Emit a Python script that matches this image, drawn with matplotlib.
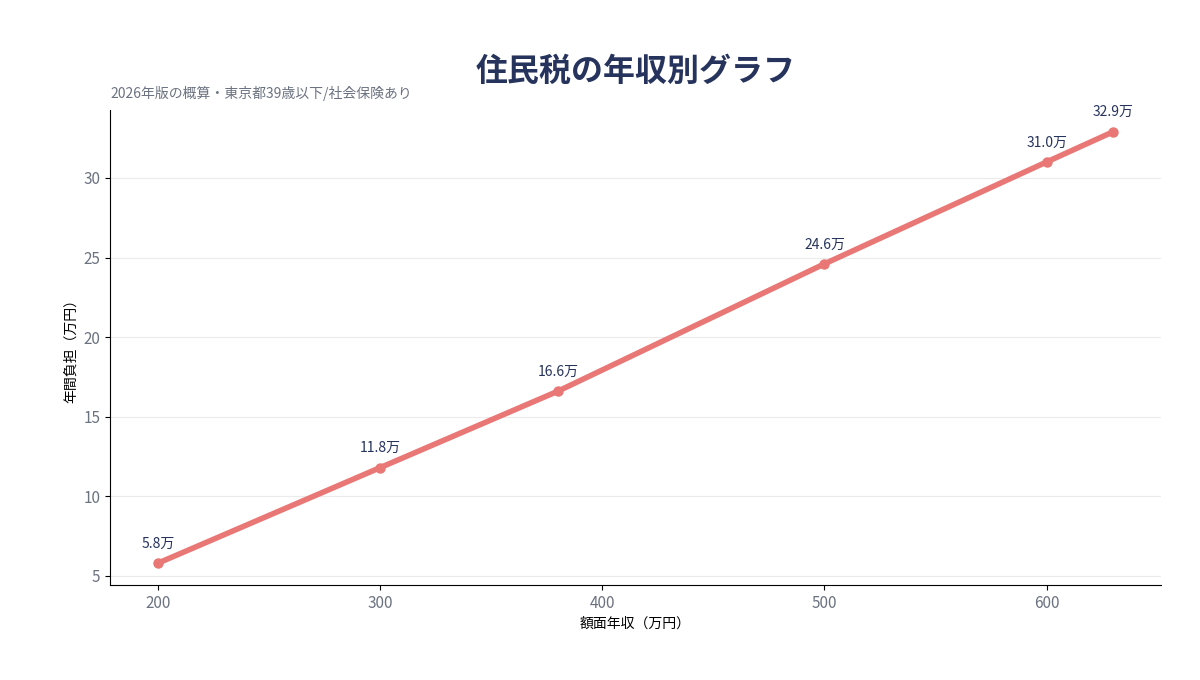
import matplotlib
matplotlib.use("Agg")
import matplotlib.pyplot as plt

plt.rcParams["font.family"] = ["Noto Sans CJK JP", "DejaVu Sans"]

# データ
incomes = [200, 300, 380, 500, 600, 630]        # 額面年収（万円）
taxes = [5.8, 11.8, 16.6, 24.6, 31.0, 32.9]     # 年間負担（万円）

LINE_COLOR = "#E87775"
NAVY = "#26335C"
GRAY = "#6B7280"

fig, ax = plt.subplots(figsize=(12, 6.8), dpi=100, facecolor="white")
fig.subplots_adjust(left=0.0917, right=0.9675, top=0.838, bottom=0.14)

ax.plot(incomes, taxes, color=LINE_COLOR, linewidth=4, marker="o",
        markersize=6.5, solid_capstyle="round", zorder=3)

for x, y in zip(incomes, taxes):
    ax.annotate(f"{y:.1f}万", (x, y), textcoords="offset points",
                xytext=(0, 9), ha="center", va="bottom",
                fontsize=10, color=NAVY)

ax.set_xticks([200, 300, 400, 500, 600])
ax.set_yticks([5, 10, 15, 20, 25, 30])
ax.grid(axis="y", color="#EBEBEB", linewidth=0.8)
ax.set_axisbelow(True)
ax.spines[["top", "right"]].set_visible(False)
ax.tick_params(axis="both", labelsize=11, colors=GRAY)
ax.tick_params(axis="both", color="black")

ax.set_xlabel("額面年収（万円）", fontsize=10, color="black")
ax.set_ylabel("年間負担（万円）", fontsize=10, color="black")

ax.set_title("住民税の年収別グラフ", fontsize=23, fontweight="bold",
             color=NAVY, pad=21)
ax.text(0, 1.02, "2026年版の概算・東京都39歳以下/社会保険あり",
        transform=ax.transAxes, ha="left", va="bottom",
        fontsize=10, color=GRAY)

fig.savefig("out.png", dpi=100, facecolor="white")
